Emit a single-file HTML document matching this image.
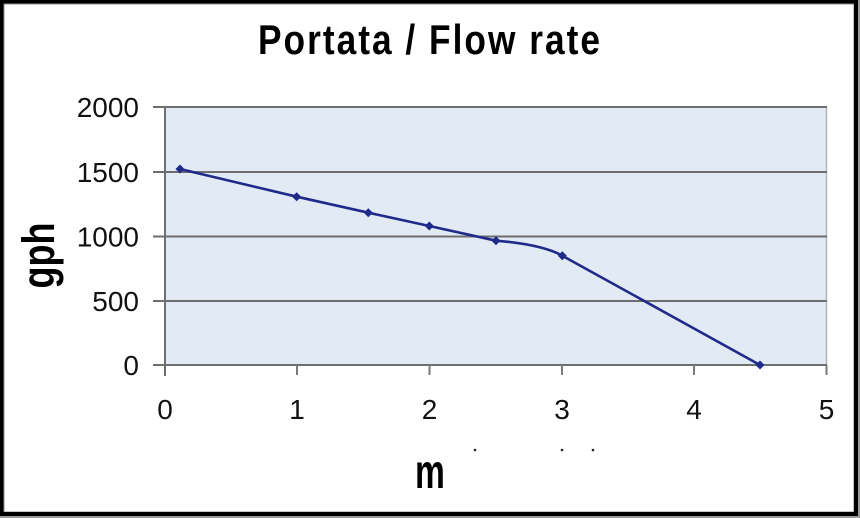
<!DOCTYPE html>
<html><head><meta charset="utf-8"><style>
html,body{margin:0;padding:0;background:#fff;}
svg{display:block;}
text{font-family:"Liberation Sans",Arial,sans-serif;}
</style></head><body>
<svg width="860" height="518" viewBox="0 0 860 518" xmlns="http://www.w3.org/2000/svg">
<rect x="0" y="0" width="860" height="518" fill="#fff"/>
<!-- outer frame -->
<rect x="0" y="0" width="860" height="518" fill="#9a9a9a"/>
<rect x="0" y="0" width="858" height="516" fill="#000"/>
<rect x="3.5" y="3.5" width="850.5" height="508.5" fill="#8a8a8a"/>
<rect x="4.5" y="4.5" width="849" height="507" fill="#fff"/>

<!-- title -->
<text transform="translate(430,54) scale(0.84,1)" text-anchor="middle" font-size="42" font-weight="bold" letter-spacing="2.4" fill="#000">Portata / Flow rate</text>

<!-- plot area -->
<rect x="165" y="107" width="661.5" height="258" fill="#e2eaf3"/>
<line x1="826.5" y1="107" x2="826.5" y2="365" stroke="#b4b4b4" stroke-width="1.5"/>
<!-- gridlines -->
<g stroke="#6e6e6e" stroke-width="2">
<line x1="153" y1="107" x2="827" y2="107"/>
<line x1="153" y1="172" x2="827" y2="172"/>
<line x1="153" y1="236.5" x2="827" y2="236.5"/>
<line x1="153" y1="301" x2="827" y2="301"/>
<line x1="153" y1="365" x2="827" y2="365"/>
</g>
<!-- y axis -->
<line x1="165" y1="106" x2="165" y2="376" stroke="#6e6e6e" stroke-width="2"/>
<!-- x ticks -->
<g stroke="#7a7a7a" stroke-width="2">
<line x1="297" y1="365" x2="297" y2="375"/>
<line x1="429.5" y1="365" x2="429.5" y2="375"/>
<line x1="562" y1="365" x2="562" y2="375"/>
<line x1="694" y1="365" x2="694" y2="375"/>
<line x1="826.5" y1="365" x2="826.5" y2="375"/>
</g>

<!-- y labels -->
<g font-size="28" fill="#111" text-anchor="end">
<text x="139" y="117">2000</text>
<text x="139" y="182">1500</text>
<text x="139" y="246.5">1000</text>
<text x="139" y="311">500</text>
<text x="139" y="375">0</text>
</g>
<!-- x labels -->
<g font-size="28" fill="#111" text-anchor="middle">
<text x="165" y="419">0</text>
<text x="297" y="419">1</text>
<text x="429.5" y="419">2</text>
<text x="562" y="419">3</text>
<text x="694" y="419">4</text>
<text x="826.5" y="419">5</text>
</g>

<!-- series -->
<path d="M180,169 L296.7,196.7 L368.3,212.7 L429.3,226 L496,240.7 C518,242.5 545,246 562.3,255.7 L760,365" fill="none" stroke="#1f2a8a" stroke-width="2.6" stroke-linejoin="round"/>
<g fill="#1f2a8a">
<path d="M180,164.5 L184.5,169 L180,173.5 L175.5,169 Z"/>
<path d="M296.7,192.2 L301.2,196.7 L296.7,201.2 L292.2,196.7 Z"/>
<path d="M368.3,208.2 L372.8,212.7 L368.3,217.2 L363.8,212.7 Z"/>
<path d="M429.3,221.5 L433.8,226 L429.3,230.5 L424.8,226 Z"/>
<path d="M496,236.2 L500.5,240.7 L496,245.2 L491.5,240.7 Z"/>
<path d="M562.3,251.2 L566.8,255.7 L562.3,260.2 L557.8,255.7 Z"/>
<path d="M760,360.5 L764.5,365 L760,369.5 L755.5,365 Z"/>
</g>

<!-- axis titles -->
<text transform="translate(54,255.5) rotate(-90) scale(0.8,1)" text-anchor="middle" font-size="45" font-weight="bold" fill="#000">gph</text>
<text transform="translate(430,488) scale(0.7,1)" text-anchor="middle" font-size="48" font-weight="bold" fill="#000">m</text>

<!-- small artifacts -->
<g fill="#222">
<circle cx="475" cy="450" r="1.3"/>
<circle cx="562" cy="450" r="1.3"/>
<circle cx="593" cy="450" r="1.3"/>
</g>
</svg>
</body></html>
